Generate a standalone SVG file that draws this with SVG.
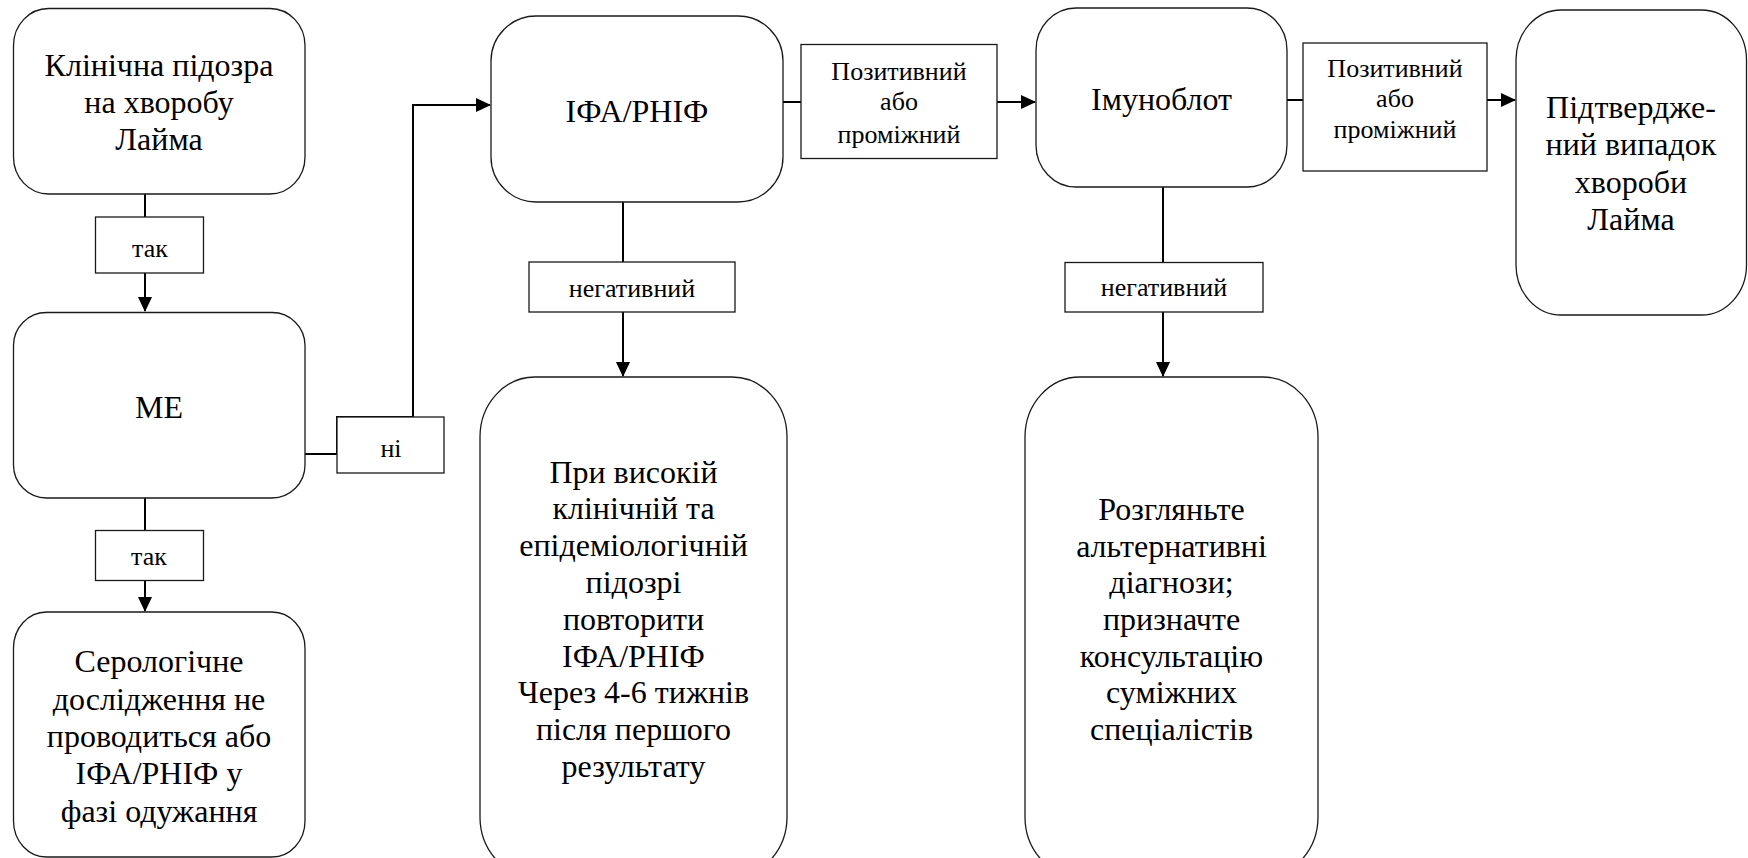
<svg xmlns="http://www.w3.org/2000/svg" width="1748" height="858" viewBox="0 0 1748 858" font-family="Liberation Serif, Times New Roman, serif">
<style>
  .node rect { fill: #ffffff; stroke: #1a1a1a; stroke-width: 1.3; }
  .lbl rect { fill: #ffffff; stroke: #1a1a1a; stroke-width: 1.3; }
  text { fill: #000; text-anchor: middle; }
  .node text { font-size: 32px; }
  .lbl text { font-size: 26px; }
  .conn path { fill: none; stroke: #000; stroke-width: 2; marker-end: url(#arr); }
</style>
<defs>
  <marker id="arr" markerUnits="userSpaceOnUse" markerWidth="15" markerHeight="14" refX="14" refY="7" orient="auto">
    <path d="M0,0 L15,7 L0,14 Z" fill="#000"/>
  </marker>
</defs>
<rect x="0" y="0" width="1748" height="858" fill="#ffffff"/>

<g id="connectors" class="conn">
  <path d="M145,194 V311"/>
  <path d="M145,498 V611"/>
  <path d="M305,454 H337 V417 H413 V105 H490"/>
  <path d="M783,102 H1035"/>
  <path d="M623,202 V376"/>
  <path d="M1287,100 H1515"/>
  <path d="M1163,187 V376"/>
</g>

<g id="node-suspicion" class="node">
  <rect x="13.5" y="8.5" width="291.5" height="185.5" rx="35" ry="37"/>
  <text x="159" y="76">Клінічна підозра</text>
  <text x="159" y="113">на хворобу</text>
  <text x="159" y="150">Лайма</text>
</g>
<g id="node-me" class="node">
  <rect x="13.5" y="312.5" width="291.5" height="185.5" rx="33" ry="33"/>
  <text x="159" y="418">МЕ</text>
</g>
<g id="node-no-serology" class="node">
  <rect x="13.5" y="612" width="291.5" height="245" rx="33" ry="36"/>
  <text x="159" y="672">Серологічне</text>
  <text x="159" y="710">дослідження не</text>
  <text x="159" y="747">проводиться або</text>
  <text x="159" y="784">ІФА/РНІФ у</text>
  <text x="159" y="822">фазі одужання</text>
</g>
<g id="node-ifa" class="node">
  <rect x="491" y="16" width="292" height="186" rx="45" ry="45"/>
  <text x="637" y="122">ІФА/РНІФ</text>
</g>
<g id="node-repeat" class="node">
  <rect x="480" y="377" width="307" height="500" rx="55" ry="60"/>
  <text x="633.5" y="483">При високій</text>
  <text x="633.5" y="519">клінічній та</text>
  <text x="633.5" y="556">епідеміологічній</text>
  <text x="633.5" y="593">підозрі</text>
  <text x="633.5" y="630">повторити</text>
  <text x="633.5" y="667">ІФА/РНІФ</text>
  <text x="633.5" y="703">Через 4-6 тижнів</text>
  <text x="633.5" y="740">після першого</text>
  <text x="633.5" y="777">результату</text>
</g>
<g id="node-immunoblot" class="node">
  <rect x="1036" y="8" width="251" height="179" rx="40" ry="42"/>
  <text x="1161.5" y="110">Імуноблот</text>
</g>
<g id="node-alternative" class="node">
  <rect x="1025" y="377" width="293" height="500" rx="55" ry="60"/>
  <text x="1171.5" y="520">Розгляньте</text>
  <text x="1171.5" y="557">альтернативні</text>
  <text x="1171.5" y="593">діагнози;</text>
  <text x="1171.5" y="630">призначте</text>
  <text x="1171.5" y="667">консультацію</text>
  <text x="1171.5" y="703">суміжних</text>
  <text x="1171.5" y="740">спеціалістів</text>
</g>
<g id="node-confirmed" class="node">
  <rect x="1516" y="10" width="230.5" height="305" rx="45" ry="50"/>
  <text x="1631" y="118">Підтвердже-</text>
  <text x="1631" y="155">ний випадок</text>
  <text x="1631" y="193">хвороби</text>
  <text x="1631" y="230">Лайма</text>
</g>

<g id="label-yes-1" class="lbl">
  <rect x="95.5" y="217" width="108" height="56"/>
  <text x="150" y="257">так</text>
</g>
<g id="label-yes-2" class="lbl">
  <rect x="95.5" y="530.5" width="108" height="50"/>
  <text x="149" y="565">так</text>
</g>
<g id="label-no" class="lbl">
  <rect x="337" y="417" width="107" height="56"/>
  <text x="391" y="457">ні</text>
</g>
<g id="label-positive-1" class="lbl">
  <rect x="801" y="44.5" width="196" height="114"/>
  <text x="899" y="80">Позитивний</text>
  <text x="899" y="110">або</text>
  <text x="899" y="143">проміжний</text>
</g>
<g id="label-negative-1" class="lbl">
  <rect x="529" y="262" width="206" height="50"/>
  <text x="632" y="297">негативний</text>
</g>
<g id="label-positive-2" class="lbl">
  <rect x="1303" y="43" width="184" height="128"/>
  <text x="1395" y="77">Позитивний</text>
  <text x="1395" y="107">або</text>
  <text x="1395" y="138">проміжний</text>
</g>
<g id="label-negative-2" class="lbl">
  <rect x="1065" y="262.5" width="198" height="49.5"/>
  <text x="1164" y="296">негативний</text>
</g>
</svg>
